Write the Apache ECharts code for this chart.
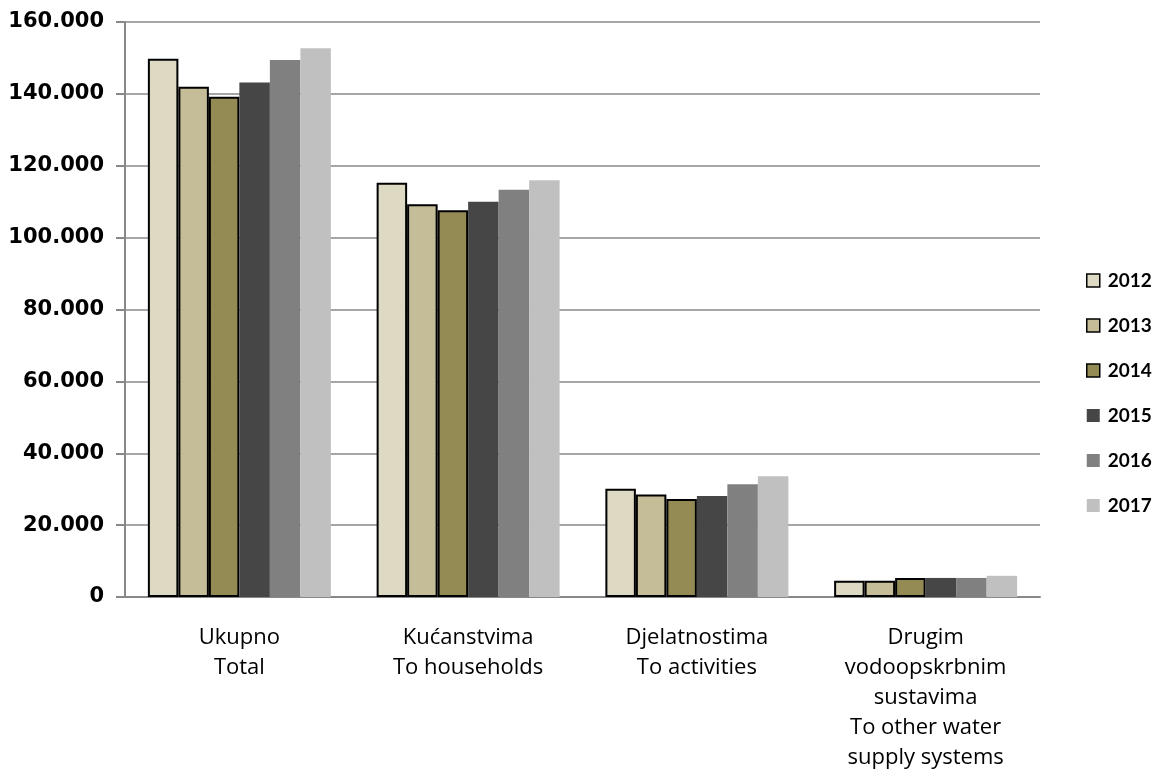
<!DOCTYPE html>
<html>
<head>
<meta charset="utf-8">
<script src="https://cdn.jsdelivr.net/npm/echarts@6/dist/echarts.min.js"></script>
<style>
html,body{margin:0;padding:0;background:#fff;}
#chart{width:1154px;height:775px;}
</style>
</head>
<body>
<div id="chart"></div>
<script>
const categories = ['Ukupno\nTotal', 'Kućanstvima\nTo households', 'Djelatnostima\nTo activities', 'Drugim\nvodoopskrbnim\nsustavima\nTo other water\nsupply systems'];
const years = ['2012', '2013', '2014', '2015', '2016', '2017'];
const v2012 = [149800, 115300, 30100, 4500];
const v2013 = [142000, 109300, 28500, 4500];
const v2014 = [139200, 107600, 27300, 5300];
const v2015 = [143200, 110000, 28100, 5300];
const v2016 = [149400, 113300, 31400, 5300];
const v2017 = [152700, 116000, 33600, 5900];
const yTicks = [0, 20000, 40000, 60000, 80000, 100000, 120000, 140000, 160000];

const seriesValues = [v2012, v2013, v2014, v2015, v2016, v2017];
const colors = ['#DDD9C3', '#C4BD97', '#948A54', '#464646', '#808080', '#C0C0C0'];
const bordered = [true, true, true, false, false, false];

const chart = echarts.init(document.getElementById('chart'), null, {renderer: 'canvas'});
const fmt = v => String(v).replace(/\B(?=(\d{3})+(?!\d))/g, '.');

chart.setOption({
  animation: false,
  backgroundColor: '#fff',
  grid: {left: 125, right: 114, top: 22, bottom: 178},
  legend: {
    orient: 'vertical',
    left: 1081,
    top: 266,
    itemWidth: 13,
    itemHeight: 13,
    itemGap: 26,
    icon: 'rect',
    textStyle: {fontFamily: 'Lato', fontWeight: 'bold', fontSize: 19, color: '#000', padding: [0, 0, 0, 3]},
    data: years.map((y, i) => ({name: y, itemStyle: {borderColor: i < 3 ? '#000' : colors[i], borderWidth: i < 3 ? 1.5 : 0}}))
  },
  xAxis: {
    type: 'category',
    data: categories,
    axisLine: {lineStyle: {color: '#888', width: 2}},
    axisTick: {show: false},
    axisLabel: {
      fontFamily: 'Open Sans', fontSize: 22, color: '#000', lineHeight: 30, margin: 26,
      interval: 0
    }
  },
  yAxis: {
    type: 'value',
    min: 0, max: 160000, interval: 20000,
    axisLine: {show: true, lineStyle: {color: '#888', width: 2}},
    axisTick: {show: true, length: 9, inside: false, lineStyle: {color: '#888', width: 2}},
    splitLine: {lineStyle: {color: '#888', width: 1.5}},
    axisLabel: {
      fontFamily: 'DejaVu Sans', fontWeight: 'bold', fontSize: 21, color: '#000', margin: 21,
      formatter: v => yTicks.includes(v) ? fmt(v) : ''
    }
  },
  series: years.map((y, i) => ({
    name: y,
    type: 'bar',
    data: seriesValues[i],
    barGap: '0%',
    barCategoryGap: '20%',
    itemStyle: {
      color: colors[i],
      borderColor: bordered[i] ? '#000' : colors[i],
      borderWidth: bordered[i] ? 2 : 0
    }
  }))
});
</script>
</body>
</html>
